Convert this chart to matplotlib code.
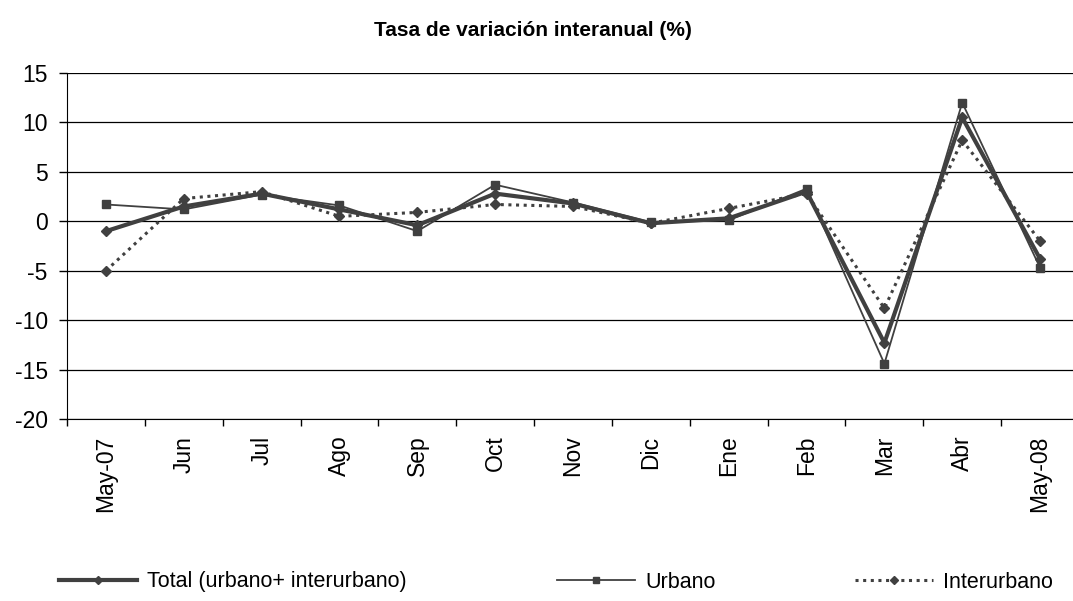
import matplotlib
matplotlib.use("Agg")
import matplotlib.pyplot as plt
from matplotlib.lines import Line2D

plt.rcParams['font.family'] = ['Liberation Sans', 'DejaVu Sans']
plt.rcParams['axes.unicode_minus'] = False

meses = ["May-07", "Jun", "Jul", "Ago", "Sep", "Oct", "Nov",
         "Dic", "Ene", "Feb", "Mar", "Abr", "May-08"]
total = [-1.0, 1.5, 2.8, 1.2, -0.4, 2.8, 1.8, -0.2, 0.3, 3.0, -12.3, 10.5, -3.8]
urbano = [1.7, 1.2, 2.7, 1.6, -1.0, 3.7, 1.9, -0.1, 0.1, 3.3, -14.4, 12.0, -4.7]
interurbano = [-5.0, 2.3, 3.0, 0.5, 0.9, 1.7, 1.5, -0.2, 1.3, 2.8, -8.8, 8.2, -2.0]

col = "#404040"

fig = plt.figure(figsize=(10.73, 6.01), dpi=100)
ax = fig.add_axes([67/1073, 1 - 419/601, (1079 - 67)/1073, (419 - 73)/601])

x = list(range(len(meses)))
ax.plot(x, interurbano, color=col, lw=2.2, ls=(0, (1, 1.5)), marker="D", ms=5.5,
        label="Interurbano", zorder=3)
ax.plot(x, urbano, color=col, lw=1.3, marker="s", ms=6, label="Urbano", zorder=4)
ax.plot(x, total, color=col, lw=3.0, marker="D", ms=5.5, label="Total (urbano+ interurbano)",
        zorder=5)

ax.set_xlim(-0.5, len(meses) - 0.5)
ax.set_ylim(-20, 15)
ax.set_yticks(range(-20, 16, 5))
ax.yaxis.grid(True, color="black", lw=0.9)
ax.set_axisbelow(True)
ax.set_xticks(x)
ax.set_xticklabels(meses, rotation=90, fontsize=16.5)
ax.set_xticks([i - 0.5 for i in range(len(meses) + 1)], minor=True)
ax.tick_params(axis="x", which="major", length=0, pad=12)
ax.tick_params(axis="x", which="minor", length=5, color="black", width=1)
ax.tick_params(axis="y", labelsize=16.5, length=5.8, width=1, color="black", pad=8)
for s in ["top", "right"]:
    ax.spines[s].set_visible(False)
ax.spines["left"].set_color("black")
ax.spines["bottom"].set_color("black")

fig.text(533/1073, 1 - 30/601, "Tasa de variación interanual (%)", ha="center", va="center",
         fontsize=15, fontweight="bold")

h_total = Line2D([], [], color=col, lw=3.0, marker="D", ms=4.5)
h_urb = Line2D([], [], color=col, lw=1.3, marker="s", ms=5)
h_int = Line2D([], [], color=col, lw=2.2, ls=(0, (1, 1.5)), marker="D", ms=4.5)
entradas = [(h_total, "Total (urbano+ interurbano)", 59),
            (h_urb, "Urbano", 557),
            (h_int, "Interurbano", 855)]
for h, txt, xpos in entradas:
    fig.legend([h], [txt], loc="center left",
               bbox_to_anchor=(xpos/1073, 1 - 582/601), frameon=False, fontsize=15.5,
               handlelength=3.6, handletextpad=0.5, borderpad=0, borderaxespad=0)

fig.savefig("out.png", dpi=100)
